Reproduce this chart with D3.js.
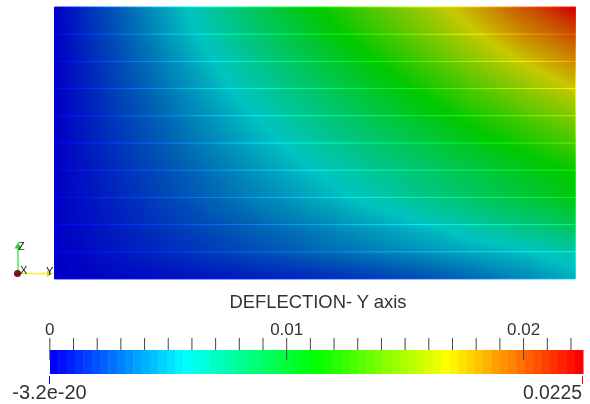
<!DOCTYPE html>
<html>
<head>
<meta charset="utf-8">
<title>Deflection</title>
<script src="https://cdn.jsdelivr.net/npm/d3@7"></script>
<style>
body { margin: 0; background: #fff; }
text { font-family: "Liberation Sans", Arial, sans-serif; fill: #333; filter: url(#soft); }
</style>
</head>
<body>
<div id="svgContainer"></div>
<script>
var svgWidth = 590, svgHeight = 404;

// deflection as a fraction of the maximum.
// one row per mesh line, top of the plate first, left to right
var meshRows = [
	[0, .098, .195, .297, .398, .500, .596, .693, .794, .897, 1.00],
	[0, .091, .182, .274, .365, .456, .548, .641, .736, .830, .910],
	[0, .081, .161, .244, .326, .408, .491, .577, .669, .756, .830],
	[0, .073, .146, .220, .294, .368, .443, .518, .598, .676, .755],
	[0, .065, .130, .195, .260, .327, .394, .460, .531, .601, .670],
	[0, .058, .115, .173, .231, .290, .349, .408, .468, .530, .595],
	[0, .050, .100, .150, .200, .250, .303, .356, .410, .463, .516],
	[0, .043, .087, .131, .175, .218, .264, .317, .371, .424, .478],
	[0, .034, .069, .104, .138, .172, .207, .243, .290, .340, .390],
	[0, .027, .053, .080, .107, .133, .160, .187, .215, .242, .285],
	[0, .010, .020, .030, .040, .055, .075, .100, .135, .175, .220]
];
var maxDeflection = 0.0225;
var minLabel = "-3.2e-20", maxLabel = "0.0225";
var titleText = "DEFLECTION- Y axis";
var majorTicks = [0, 0.01, 0.02];
var minorTicks = d3.range(1, 23).map(function(d){ return d / 1000; }).filter(function(d){ return majorTicks.indexOf(d) < 0; });
var colorStops = [0, .25, .5, .75, 1];
var lutColors = ["#0000ff", "#00ffff", "#00ff00", "#ffff00", "#ff0000"];
var litStops = [0, .125, .25, .5, .75, 1];
var litColors = ["#0000c4", "#0060b4", "#00c4c0", "#00c800", "#c8c800", "#cc0000"];
var lutSteps = 64;

var plot = {left: 54.5, right: 575.5, top: 7, bottom: 279};
var bar = {left: 50, right: 583, top: 350, bottom: 374};

var svg = d3.select("#svgContainer").append("svg")
	.attr("width", svgWidth)
	.attr("height", svgHeight)
	.style("display", "block");

var nCols = meshRows[0].length, nRows = meshRows.length;
var lut = d3.scaleLinear().domain(colorStops).range(lutColors);
var lit = d3.scaleLinear().domain(litStops).range(litColors);

var x = d3.scaleLinear().domain([0, nCols - 1]).range([plot.left, plot.right]);
var y = d3.scaleLinear().domain([0, nRows - 1]).range([plot.top, plot.bottom]);

// the picture's text is a little soft
svg.append("filter").attr("id", "soft")
	.append("feGaussianBlur").attr("stdDeviation", 0.35);

// plate surface, stacked contours give the smooth shading
var flat = d3.merge(meshRows);
var contours = d3.contours().size([nCols, nRows]).thresholds(d3.range(0, 1, 1 / 300));
var toPlot = d3.geoTransform({
	point: function(px, py){ this.stream.point(x(px - 0.5), y(py - 0.5)); }
});
svg.append("clipPath").attr("id", "plate")
	.append("rect")
	.attr("x", plot.left).attr("y", plot.top)
	.attr("width", plot.right - plot.left).attr("height", plot.bottom - plot.top);

var surface = svg.append("g").attr("clip-path", "url(#plate)");
surface.append("rect")
	.attr("x", plot.left).attr("y", plot.top)
	.attr("width", plot.right - plot.left).attr("height", plot.bottom - plot.top)
	.attr("fill", lit(0));
surface.selectAll("path")
	.data(contours(flat))
	.enter().append("path")
	.attr("d", d3.geoPath(toPlot))
	.attr("fill", function(d){ return lit(d.value); });

// mesh lines, the unlit colour of the node values
var defs = svg.append("defs");
meshRows.forEach(function(row, i){
	var g = defs.append("linearGradient").attr("id", "row" + i);
	row.forEach(function(v, j){
		g.append("stop").attr("offset", j / (nCols - 1)).attr("stop-color", lut(v));
	});
	var w = i == nRows - 1 ? 0.85 : 0.95;
	svg.append("rect")
		.attr("x", plot.left)
		.attr("y", y(i) - 0.5)
		.attr("width", plot.right - plot.left)
		.attr("height", 1)
		.attr("fill", "url(#row" + i + ")")
		.attr("opacity", w);
});
// the two plate ends
[0, nCols - 1].forEach(function(j){
	var g = defs.append("linearGradient").attr("id", "col" + j)
		.attr("x1", 0).attr("x2", 0).attr("y1", 0).attr("y2", 1);
	meshRows.forEach(function(row, i){
		g.append("stop").attr("offset", i / (nRows - 1)).attr("stop-color", lut(row[j]));
	});
	svg.append("rect")
		.attr("x", x(j) - 0.5)
		.attr("y", plot.top)
		.attr("width", 1)
		.attr("height", plot.bottom - plot.top)
		.attr("fill", "url(#col" + j + ")");
});

// orientation triad
var triad = {x: 18, y: 273.5, lenY: 33, lenZ: 27};
var tg = svg.append("g");
tg.append("line").attr("x1", triad.x).attr("y1", triad.y).attr("x2", triad.x + triad.lenY).attr("y2", triad.y)
	.attr("stroke", "#f4f430").attr("stroke-width", 1.5);
tg.append("line").attr("x1", triad.x).attr("y1", triad.y).attr("x2", triad.x).attr("y2", triad.y - triad.lenZ)
	.attr("stroke", "#50e850").attr("stroke-width", 1.5);
tg.append("path").attr("d", d3.symbol().type(d3.symbolTriangle).size(22)())
	.attr("transform", "translate(" + triad.x + "," + (triad.y - triad.lenZ) + ")").attr("fill", "#30d030");
tg.append("path").attr("d", d3.symbol().type(d3.symbolTriangle).size(22)())
	.attr("transform", "translate(" + (triad.x + triad.lenY - 2) + "," + triad.y + ") rotate(90)").attr("fill", "#d8d820");
tg.append("circle").attr("cx", triad.x - 0.5).attr("cy", triad.y).attr("r", 3.5).attr("fill", "#7a1414");
[["Z", 18, 250], ["X", 20, 274], ["Y", 46, 275]].forEach(function(d){
	tg.append("text").attr("x", d[1]).attr("y", d[2]).attr("font-size", 11).style("fill", "#222").text(d[0]);
});

// title
svg.append("text")
	.attr("x", 318)
	.attr("y", 307.5)
	.attr("text-anchor", "middle")
	.attr("font-size", 18.4)
	.text(titleText);

// colour bar
var barX = d3.scaleLinear().domain([0, maxDeflection]).range([bar.left, bar.right]);
var bands = d3.scaleBand().domain(d3.range(lutSteps)).range([bar.left, bar.right]);
svg.append("g").selectAll("rect")
	.data(d3.range(lutSteps))
	.enter().append("rect")
	.attr("x", function(d){ return bands(d); })
	.attr("y", bar.top)
	.attr("width", bands.bandwidth() + 0.5)
	.attr("height", bar.bottom - bar.top)
	.attr("fill", function(d){ return lut(d / (lutSteps - 1)); });

var minorAxis = d3.axisTop(barX).tickValues(minorTicks).tickSize(12).tickFormat("");
var majorAxis = d3.axisTop(barX).tickValues(majorTicks).tickSize(22).tickPadding(3).tickFormat(function(d){ return d; });

svg.append("g").attr("transform", "translate(-0.7," + bar.top + ")").call(minorAxis)
	.call(function(g){ g.select(".domain").remove(); })
	.selectAll("line").attr("stroke", "#444");
var mg = svg.append("g").attr("transform", "translate(-0.7,360)").call(majorAxis);
mg.select(".domain").remove();
mg.selectAll("line").attr("stroke", "#444");
mg.selectAll("text").attr("font-size", 17).style("font-family", "Liberation Sans").style("fill", "#333");

// range end marks
svg.append("line").attr("x1", bar.left - 0.5).attr("x2", bar.left - 0.5).attr("y1", 376).attr("y2", 384).attr("stroke", "#0000ff");
svg.append("line").attr("x1", bar.right - 0.5).attr("x2", bar.right - 0.5).attr("y1", 376).attr("y2", 384).attr("stroke", "#ff0000");
svg.append("text").attr("x", 49.5).attr("y", 399).attr("text-anchor", "middle").attr("font-size", 20).text(minLabel);
svg.append("text").attr("x", 582).attr("y", 399).attr("text-anchor", "end").attr("font-size", 19.3).text(maxLabel);
</script>
</body>
</html>
